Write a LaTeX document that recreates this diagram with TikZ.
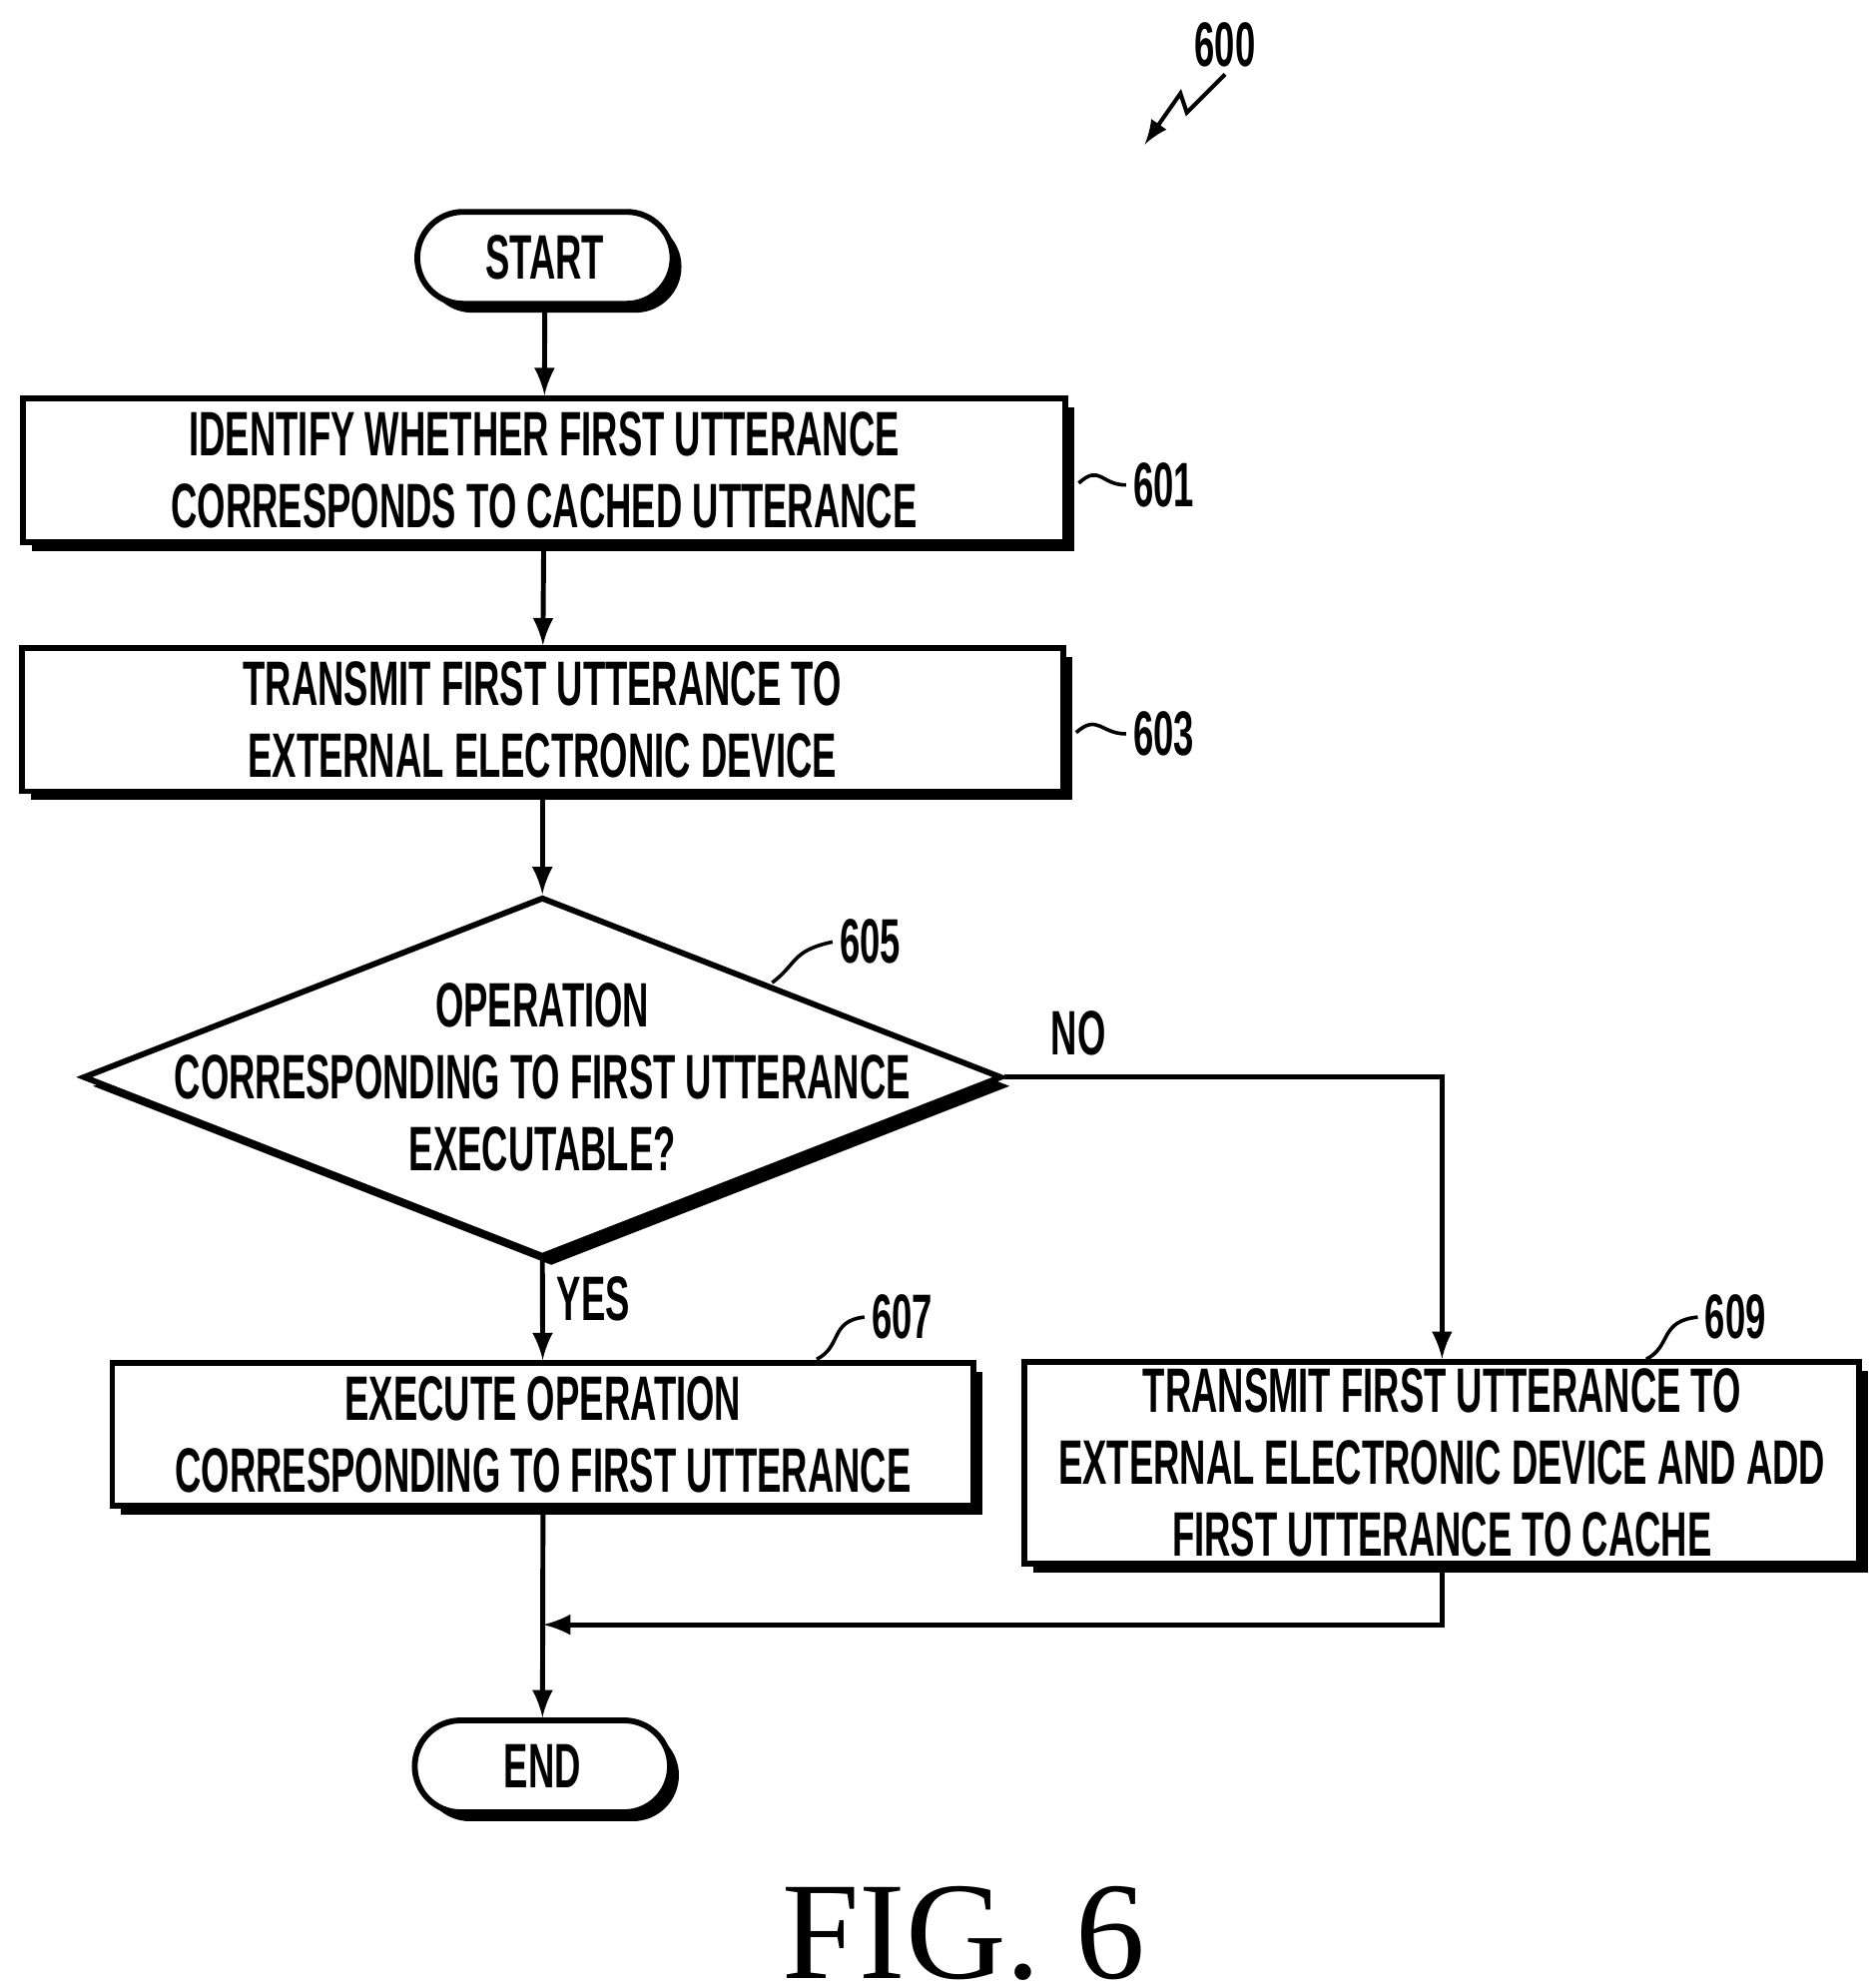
\documentclass[tikz,border=0pt]{standalone}
\usepackage{fontspec}
\setmainfont{Liberation Serif}
\newfontfamily\flowfont[FakeStretch=0.58]{Liberation Sans}
\usetikzlibrary{shapes.geometric,shadows,calc}

\begin{document}
\begin{tikzpicture}[>=latex, line width=1.3pt]
    \tikzset{
        shade box/.style={drop shadow={shadow xshift=0.07cm,shadow yshift=-0.07cm,fill=black,opacity=1}},
        flowbox/.style={draw, fill=white, shade box, rectangle, inner sep=0pt, align=center,
            font=\flowfont\bfseries\fontsize{14}{16}\selectfont},
        term/.style={flowbox, rounded corners=0.36cm, minimum width=2cm, minimum height=0.72cm},
        decide/.style={flowbox, diamond, aspect=2.55, minimum width=7.2cm, minimum height=2.82cm},
        tag/.style={font=\flowfont\bfseries\fontsize{14}{14}\selectfont, inner sep=1pt},
        flow/.style={->, line width=1.1pt}
    }
    \useasboundingbox (0,0) rectangle (14.7,-15.53);

    % terminals and steps
    \node[term] (start) at (4.27,-2.02) {START};
    \node[flowbox, minimum width=8.17cm, minimum height=1.13cm] (s601) at (4.265,-3.685)
        {IDENTIFY WHETHER FIRST UTTERANCE\\CORRESPONDS TO CACHED UTTERANCE};
    \node[flowbox, minimum width=8.16cm, minimum height=1.12cm] (s603) at (4.25,-5.64)
        {TRANSMIT FIRST UTTERANCE TO\\EXTERNAL ELECTRONIC DEVICE};
    \node[decide] (d605) at (4.25,-8.44) {};
    \node[font=\flowfont\bfseries\fontsize{14}{16}\selectfont, align=center] (q605) at (4.25,-8.44)
        {OPERATION\\CORRESPONDING TO FIRST UTTERANCE\\EXECUTABLE?};
    \node[flowbox, minimum width=6.75cm, minimum height=1.12cm] (s607) at (4.255,-11.24)
        {EXECUTE OPERATION\\CORRESPONDING TO FIRST UTTERANCE};
    \node[flowbox, minimum width=6.54cm, minimum height=1.58cm] (s609) at (11.30,-11.46)
        {TRANSMIT FIRST UTTERANCE TO\\EXTERNAL ELECTRONIC DEVICE AND ADD\\FIRST UTTERANCE TO CACHE};
    \node[term] (end) at (4.25,-13.84) {END};

    % reference numerals
    \node[tag] (l600) at (9.60,-0.35) {600};
    \node[tag] (l601) at (9.12,-3.80) {601};
    \node[tag] (l603) at (9.12,-5.75) {603};
    \node[tag] (l605) at (6.82,-7.38) {605};
    \node[tag] (l607) at (7.07,-10.32) {607};
    \node[tag] (l609) at (13.60,-10.32) {609};
    \node[tag] (no) at (8.45,-8.10) {NO};
    \node[tag] (yes) at (4.65,-10.18) {YES};
    \node[font=\fontsize{31}{31}\selectfont, inner sep=0pt] (fig) at (7.55,-15.15) {FIG. 6};

    % connectors
    \draw[flow] (start) -- (s601);
    \draw[flow] (s601) -- (s603);
    \draw[flow] (s603) -- (d605.north);
    \draw[flow] (d605.south) -- (s607);
    \draw[flow] (d605.east) -| (s609.north);
    \coordinate (merge) at (s607.south |- 0,-12.73);
    \draw[flow] (s609.south) |- (merge);
    \draw[flow] (s607.south) -- (end);

    % leaders
    \draw[line width=0.8pt] ($(s601.east)+(0.08,-0.1)$) .. controls ($(s601.east)+(0.25,0.05)$) and ($(l601.west)+(-0.2,0)$) .. (l601.west);
    \draw[line width=0.8pt] ($(s603.east)+(0.08,-0.1)$) .. controls ($(s603.east)+(0.25,0.05)$) and ($(l603.west)+(-0.2,0)$) .. (l603.west);
    \draw[line width=0.8pt] (6.05,-7.70) .. controls (6.25,-7.55) and (6.2,-7.45) .. (l605.west);
    \draw[line width=0.8pt] (6.40,-10.65) .. controls (6.6,-10.55) and (6.5,-10.35) .. (l607.west);
    \draw[line width=0.8pt] (12.90,-10.65) .. controls (13.1,-10.55) and (13.0,-10.35) .. (l609.west);
    \draw[->, line width=0.9pt] (l600.south) -- ++(-0.3,-0.3) -- ++(-0.05,0.15) -- ++(-0.28,-0.4);
\end{tikzpicture}
\end{document}
